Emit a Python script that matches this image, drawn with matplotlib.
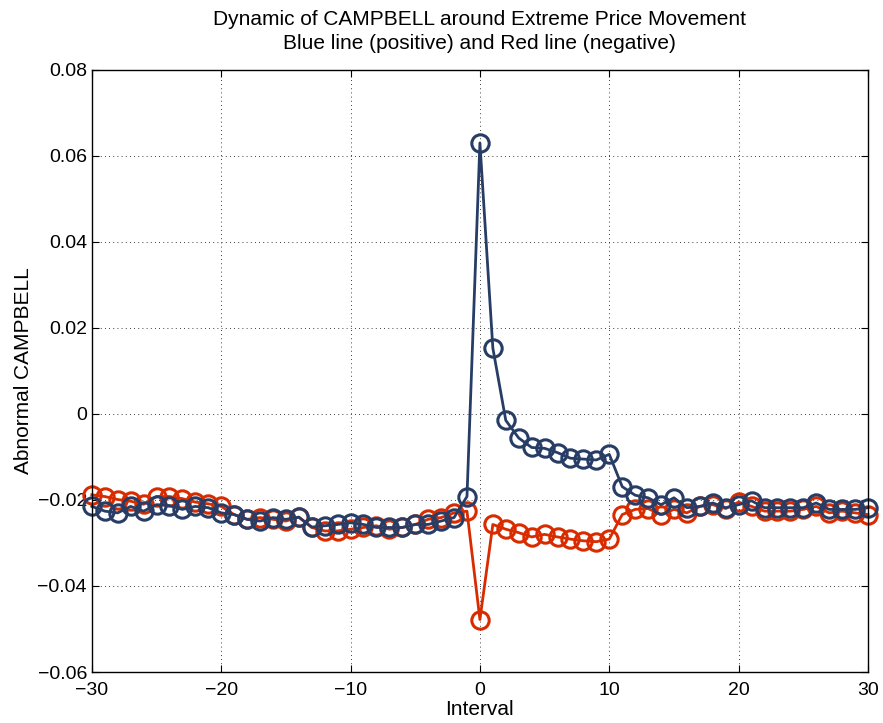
import numpy as np
import matplotlib
matplotlib.use("Agg")
import matplotlib.pyplot as plt
from matplotlib.ticker import FuncFormatter

plt.rcParams['font.family'] = ['Liberation Sans', 'DejaVu Sans']

interval = list(range(-30, 31))

# positive shock (blue line)
positive = [
    -0.0215, -0.0226, -0.0230, -0.0215, -0.0226, -0.0211, -0.0213, -0.0222, -0.0215, -0.0218,
    -0.0230, -0.0234, -0.0245, -0.0249, -0.0241, -0.0245, -0.0240, -0.0263, -0.0260, -0.0257,
    -0.0253, -0.0257, -0.0264, -0.0264, -0.0264, -0.0257, -0.0257, -0.0249, -0.0241, -0.0192,
    0.0630,
    0.0153, -0.0015, -0.0056, -0.0078, -0.0080, -0.0090, -0.0103, -0.0105, -0.0107, -0.0094,
    -0.0169, -0.0189, -0.0195, -0.0211, -0.0195, -0.0218, -0.0215, -0.0207, -0.0218, -0.0211,
    -0.0202, -0.0218, -0.0218, -0.0218, -0.0218, -0.0207, -0.0222, -0.0222, -0.0222, -0.0218,
]

# negative shock (red line)
negative = [
    -0.0188, -0.0192, -0.0199, -0.0203, -0.0210, -0.0192, -0.0192, -0.0197, -0.0205, -0.0209,
    -0.0215, -0.0234, -0.0245, -0.0241, -0.0245, -0.0249, -0.0240, -0.0264, -0.0272, -0.0272,
    -0.0268, -0.0264, -0.0260, -0.0268, -0.0264, -0.0257, -0.0245, -0.0241, -0.0230, -0.0226,
    -0.0478,
    -0.0257, -0.0268, -0.0276, -0.0286, -0.0280, -0.0286, -0.0291, -0.0295, -0.0297, -0.0291,
    -0.0234, -0.0222, -0.0220, -0.0234, -0.0222, -0.0230, -0.0215, -0.0211, -0.0220, -0.0205,
    -0.0215, -0.0226, -0.0226, -0.0226, -0.0222, -0.0215, -0.0230, -0.0226, -0.0230, -0.0234,
]

blue = '#273d66'
red = '#d92b00'

fig = plt.figure(figsize=(8.83, 7.23), dpi=100)
ax = fig.add_axes([0.104, 0.0705, 0.879, 0.833])

ax.plot(interval, negative, '-o', color=red, lw=2.0, ms=12.5, mew=2.2, mfc='none', clip_on=False)
ax.plot(interval, positive, '-o', color=blue, lw=2.0, ms=12.5, mew=2.2, mfc='none', clip_on=False)

ax.set_xlim(-30, 30)
ax.set_ylim(-0.06, 0.08)
ax.set_xticks(range(-30, 31, 10))
ax.set_yticks(np.arange(-0.06, 0.081, 0.02))
ax.yaxis.set_major_formatter(FuncFormatter(
    lambda v, p: '0' if abs(v) < 1e-9 else ('%.2f' % v).replace('-', '\u2212')))
ax.grid(True, color='black', linestyle=(0, (1, 4)), linewidth=0.6)
ax.tick_params(direction='in', top=True, right=True, labelsize=14, length=5)
ax.tick_params(axis='x', pad=7)
for s in ax.spines.values():
    s.set_linewidth(1.0)

ax.set_xlabel('Interval', fontsize=15, labelpad=1)
ax.set_ylabel('Abnormal CAMPBELL', fontsize=15, labelpad=3)
ax.set_title('Dynamic of CAMPBELL around Extreme Price Movement\nBlue line (positive) and Red line (negative)',
             fontsize=15, pad=15, linespacing=1.3)

fig.savefig('out.png', dpi=100)
